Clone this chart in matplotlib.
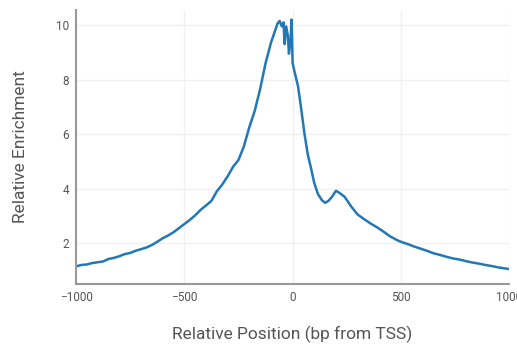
import numpy as np
import matplotlib
matplotlib.use('Agg')
import matplotlib.pyplot as plt

# position relative to TSS (bp) and enrichment
position = [-1000, -975, -950, -925, -900, -875, -850, -825, -800, -775,
            -750, -725, -700, -675, -650, -625, -600, -575, -550, -525,
            -500, -475, -450, -425, -400, -375, -350, -325, -300, -275,
            -250, -225, -200, -175, -150, -125, -100, -85, -70, -60,
            -50, -42, -37, -30, -22, -17, -10, -5, 0, 10,
            25, 40, 55, 70, 85, 100, 117, 135, 150, 165,
            180, 200, 215, 240, 270, 300, 330, 360, 390, 420,
            450, 480, 500, 530, 560, 590, 620, 650, 680, 710,
            740, 770, 800, 830, 860, 890, 920, 950, 975, 1000]
enrichment = [1.15, 1.20, 1.22, 1.27, 1.30, 1.33, 1.42, 1.46, 1.52, 1.60,
              1.64, 1.72, 1.78, 1.84, 1.93, 2.05, 2.18, 2.28, 2.40, 2.55,
              2.70, 2.85, 3.02, 3.22, 3.38, 3.55, 3.90, 4.15, 4.45, 4.80,
              5.05, 5.55, 6.25, 6.85, 7.65, 8.60, 9.35, 9.70, 10.05, 10.15,
              9.95, 10.10, 9.30, 9.95, 9.60, 8.95, 9.40, 10.20, 8.60, 8.25,
              7.75, 6.90, 6.00, 5.25, 4.75, 4.20, 3.80, 3.58, 3.48, 3.55,
              3.68, 3.92, 3.85, 3.70, 3.35, 3.05, 2.88, 2.72, 2.58, 2.42,
              2.25, 2.12, 2.05, 1.97, 1.88, 1.80, 1.72, 1.63, 1.57, 1.50,
              1.44, 1.40, 1.34, 1.29, 1.25, 1.20, 1.16, 1.11, 1.08, 1.05]

x_ticks = [-1000, -500, 0, 500, 1000]
y_ticks = [2, 4, 6, 8, 10]

plt.rcParams['font.family'] = ['Roboto', 'DejaVu Sans']

fig = plt.figure(figsize=(5.17, 3.46), dpi=100)
ax = fig.add_axes([0.147, 0.179, 0.838, 0.792])

ax.plot(position, enrichment, '-', color='#2278b5', linewidth=1.8)

ax.set_xlim(-1000, 1000)
ax.set_ylim(0.5, 10.55)
ax.set_xticks(x_ticks)
ax.set_yticks(y_ticks)
ax.grid(True, color='#f0f0f0', linewidth=1)
ax.set_axisbelow(True)

for s in ['top', 'right']:
    ax.spines[s].set_visible(False)
for s in ['left', 'bottom']:
    ax.spines[s].set_color('#999999')
    ax.spines[s].set_linewidth(1.5)

ax.tick_params(length=0, labelsize=8.5, colors='#555555', pad=5)
ax.set_xlabel('Relative Position (bp from TSS)', fontsize=12.5, color='#555555', labelpad=16)
ax.set_ylabel('Relative Enrichment', fontsize=12.5, color='#555555', labelpad=20)

fig.savefig('out.png', dpi=100)
